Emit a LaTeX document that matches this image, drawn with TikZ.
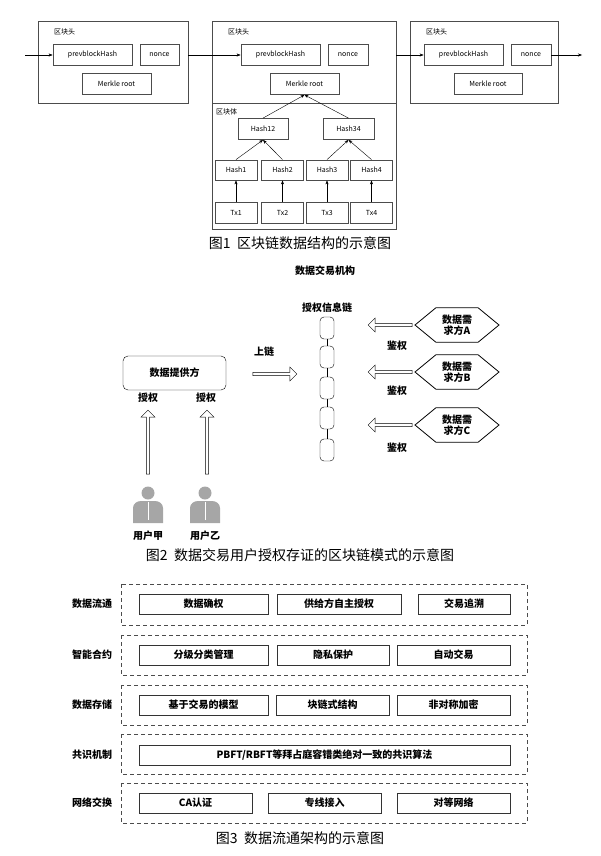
\documentclass[tikz,border=0pt]{standalone}
\usepackage{fontspec}
\setmainfont{Noto Sans CJK SC}
\usepackage{tikz}
\usetikzlibrary{arrows.meta}
\usetikzlibrary{shapes.geometric}
\usetikzlibrary{shapes.arrows}
\tikzset{
    tnode/.style = {align=center, inner sep=0pt, text centered, font=\fontsize{7}{8}\selectfont},
    hbox/.style = {tnode, rectangle, draw=black!70, thick, minimum height=21pt},
    blk/.style = {draw=black!70, thick},
    figcap/.style = {font=\fontsize{14}{16}\selectfont},
    lbl/.style = {font=\fontsize{10}{12}\selectfont\bfseries},
    link/.style = {draw=black, rounded corners=4pt, minimum width=14pt, minimum height=22pt, inner sep=0pt},
    fatr/.style = {single arrow, draw=black, fill=white, minimum height=44pt, minimum width=14pt, single arrow head extend=4pt, inner sep=1pt},
    hex/.style = {regular polygon, regular polygon sides=6, draw=black, thick, minimum size=40pt, inner sep=0pt, xscale=2.1},
    layer/.style = {draw=black!70, thick, dash pattern=on 4pt off 3pt},
    item/.style = {draw=black!80, thick, minimum height=20pt, inner sep=0pt, font=\fontsize{10}{12}\selectfont\bfseries},
    person/.style = {fill=black!35, draw=none}
}
\begin{document}
\begin{tikzpicture}[x=1pt, y=-1pt, >={Stealth[length=4pt]}]
\useasboundingbox (0,0) rectangle (600,856);
% figure 1
\draw[blk] (38,21) rectangle (188,103);
\draw[blk] (212,21) rectangle (396,229);
\draw[blk] (212,103) -- (396,103);
\draw[blk] (410,21) rectangle (558,103);
\foreach \x in {38,212,410}
    \node[tnode, anchor=west] at (\x+16,32) {区块头};
\node[tnode, anchor=west] at (216,112) {区块体};
\node[hbox, minimum width=79pt] (pa) at (92.5,55) {prevblockHash};
\node[hbox, minimum width=39pt] (na) at (159.5,55) {nonce};
\node[hbox, minimum width=69pt] (ma) at (116.5,84) {Merkle root};
\node[hbox, minimum width=79pt] (pb) at (280.5,55) {prevblockHash};
\node[hbox, minimum width=40pt] (nb) at (348,55) {nonce};
\node[hbox, minimum width=69pt] (mb) at (304.5,84) {Merkle root};
\node[hbox, minimum width=79pt] (pc) at (463.5,55) {prevblockHash};
\node[hbox, minimum width=40pt] (nc) at (531,55) {nonce};
\node[hbox, minimum width=68pt] (mc) at (488,84) {Merkle root};
\node[hbox, minimum width=50pt] (h12) at (263,129) {Hash12};
\node[hbox, minimum width=51pt] (h34) at (348.5,129) {Hash34};
\foreach \x/\i in {236/1,282.5/2,327/3,371.5/4} {
    \node[hbox, minimum width=42pt, minimum height=20pt] (h\i) at (\x,170) {Hash\i};
    \node[hbox, minimum width=42pt] (t\i) at (\x,212.5) {Tx\i};
    \draw[->] (t\i) -- (h\i);
}
\draw[->] (h1.north) -- (h12.south);
\draw[->] (h2.north) -- (h12.south);
\draw[->] (h3.north) -- (h34.south);
\draw[->] (h4.north) -- (h34.south);
\draw[->] (h12.north) -- (mb.south);
\draw[->] (h34.north) -- (mb.south);
\coordinate (in) at (25,55);
\coordinate (out) at (582,55);
\draw[->] (in) -- (pa);
\draw[->] (188,55) -- (pb);
\draw[->] (396,55) -- (pc);
\draw[->] (nc) -- (out);
\node[figcap] at (300,243) {图1\ \ 区块链数据结构的示意图};
% figure 2
\node[lbl] (org) at (325,271) {数据交易机构};
\node[lbl] (chn) at (327,308) {授权信息链};
\foreach \y/\i in {328/1,357/2,388/3,418/4,450/5}
    \node[link] (l\i) at (327,\y) {};
\foreach \i/\j in {1/2,2/3,3/4,4/5}
    \draw (l\i) -- (l\j);
\node[draw=black, rounded corners=5pt, minimum width=103pt, minimum height=34pt, font=\fontsize{10}{12}\selectfont\bfseries] (prov) at (174.5,373) {数据提供方};
\node[lbl] (ua) at (148,398) {授权};
\node[lbl] (ub) at (206,398) {授权};
\node[fatr, rotate=90, minimum height=64pt] (aa) at (148,443) {};
\node[fatr, rotate=90, minimum height=64pt] (ab) at (207,443) {};
\node[lbl] (up) at (264,352) {上链};
\node[fatr] (ar) at (274,374) {};
\foreach \y/\n/\t in {325/A/346,372/B/391,425/C/448} {
    \node[hex] (d\n) at (457,\y) {};
    \node[align=center, font=\fontsize{10}{11}\selectfont\bfseries] at (457,\y) {数据需\\求方\n};
    \node[fatr, shape border rotate=180] (r\n) at (391,\y) {};
    \node[lbl] at (397,\t) {鉴权};
}
\foreach \x/\n in {148/甲,205/乙} {
    \fill[person] (\x,493) circle (6.5pt);
    \fill[person] (\x-15,523) -- (\x-15,508) to[out=90,in=180] (\x-7,501) -- (\x+7,501) to[out=0,in=90] (\x+15,508) -- (\x+15,523) -- cycle;
    \draw[white, thick] (\x,502) -- (\x,520);
    \node[lbl] at (\x,536) {用户\n};
}
\node[figcap] at (300,555) {图2\ \ 数据交易用户授权存证的区块链模式的示意图};
% figure 3
\foreach \ya/\yb/\yc/\t in {584/625/604/数据流通,635/675/655/智能合约,685/725/705/数据存储,734/774/755/共识机制,783/823/803/网络交换} {
    \draw[layer] (121,\ya) rectangle (527,\yb);
    \node[lbl] at (92,\yc) {\t};
}
\node[item, minimum width=129pt] at (203.5,604) {数据确权};
\node[item, minimum width=124pt] at (339,604) {供给方自主授权};
\node[item, minimum width=92pt] at (464,604) {交易追溯};
\node[item, minimum width=129pt] at (203.5,655) {分级分类管理};
\node[item, minimum width=112pt] at (333,655) {隐私保护};
\node[item, minimum width=113pt] at (453.5,655) {自动交易};
\node[item, minimum width=129pt] at (203.5,705) {基于交易的模型};
\node[item, minimum width=113pt] at (332.5,705) {块链式结构};
\node[item, minimum width=113pt] at (453.5,705) {非对称加密};
\node[item, minimum width=371pt] at (324.5,755) {PBFT/RBFT等拜占庭容错类绝对一致的共识算法};
\node[item, minimum width=113pt] at (195.5,803) {CA认证};
\node[item, minimum width=113pt] at (324.5,803) {专线接入};
\node[item, minimum width=113pt] at (453.5,803) {对等网络};
\node[figcap] at (300,838) {图3\ \ 数据流通架构的示意图};
\end{tikzpicture}
\end{document}
